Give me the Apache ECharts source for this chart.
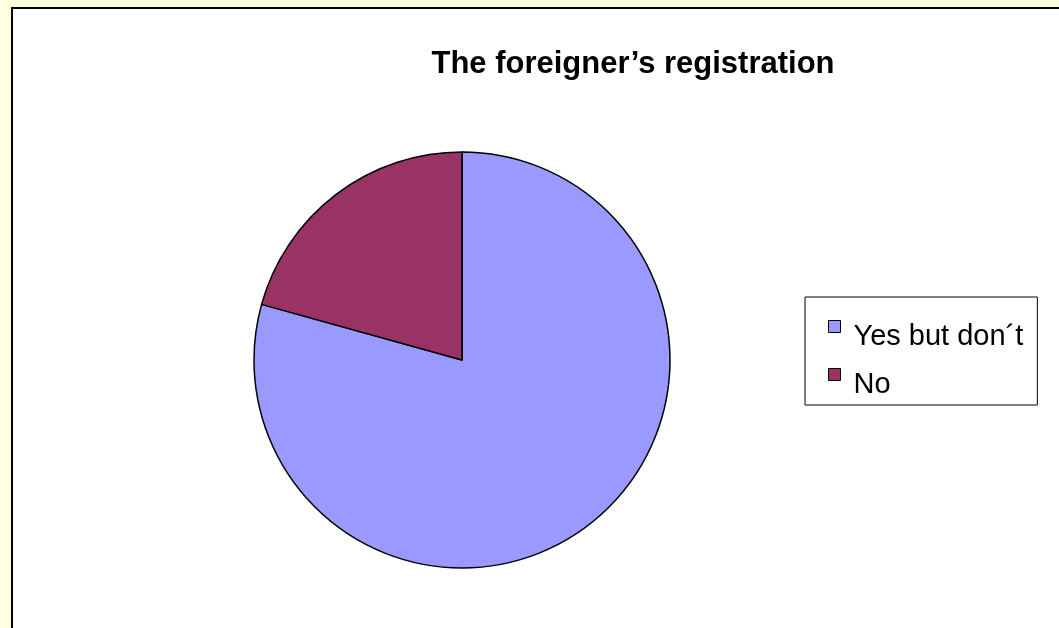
<!DOCTYPE html>
<html>
<head>
<meta charset="utf-8">
<script src="https://cdn.jsdelivr.net/npm/echarts@6/dist/echarts.min.js"></script>
<style>
html,body{margin:0;padding:0;background:#FFFFE0;}
#chart{width:1059px;height:628px;}
</style>
</head>
<body>
<div id="chart"></div>
<script>
const titleText = 'The foreigner\u2019s registration';
const categories = ['Yes but don\u00b4t', 'No'];
const values = [23, 6];
const colors = ['#9999FF', '#993366'];

const chart = echarts.init(document.getElementById('chart'), null, {renderer: 'canvas'});
chart.setOption({
  backgroundColor: '#FFFFE0',
  animation: false,
  graphic: [{
    type: 'rect', z: -1,
    shape: {x: 12, y: 8, width: 1200, height: 800},
    style: {fill: '#ffffff', stroke: '#000000', lineWidth: 2}
  }],
  title: {
    text: titleText,
    left: 628, top: 44, textAlign: 'center',
    textStyle: {fontFamily: 'Liberation Sans, Arial, sans-serif', fontWeight: 'bold', fontSize: 31, color: '#000'}
  },
  legend: {
    orient: 'vertical',
    left: 805, top: 297,
    padding: [23, 14, 4, 23],
    itemGap: 15,
    itemWidth: 12, itemHeight: 32,
    borderColor: '#000', borderWidth: 1,
    backgroundColor: '#fff',
    icon: 'path://M0,0L12,0L12,12L0,12ZM0,32',
    itemStyle: {borderColor: '#000', borderWidth: 1},
    textStyle: {fontFamily: 'Liberation Sans, Arial, sans-serif', fontSize: 29, color: '#000', lineHeight: 30, padding: [0, 0, 0, 8]},
    data: categories
  },
  series: [{
    type: 'pie',
    center: [462, 360],
    radius: 208,
    startAngle: 90,
    clockwise: true,
    label: {show: false},
    labelLine: {show: false},
    emphasis: {disabled: true},
    itemStyle: {borderColor: '#000', borderWidth: 1.5},
    data: categories.map((c, i) => ({name: c, value: values[i], itemStyle: {color: colors[i]}}))
  }]
});
</script>
</body>
</html>
